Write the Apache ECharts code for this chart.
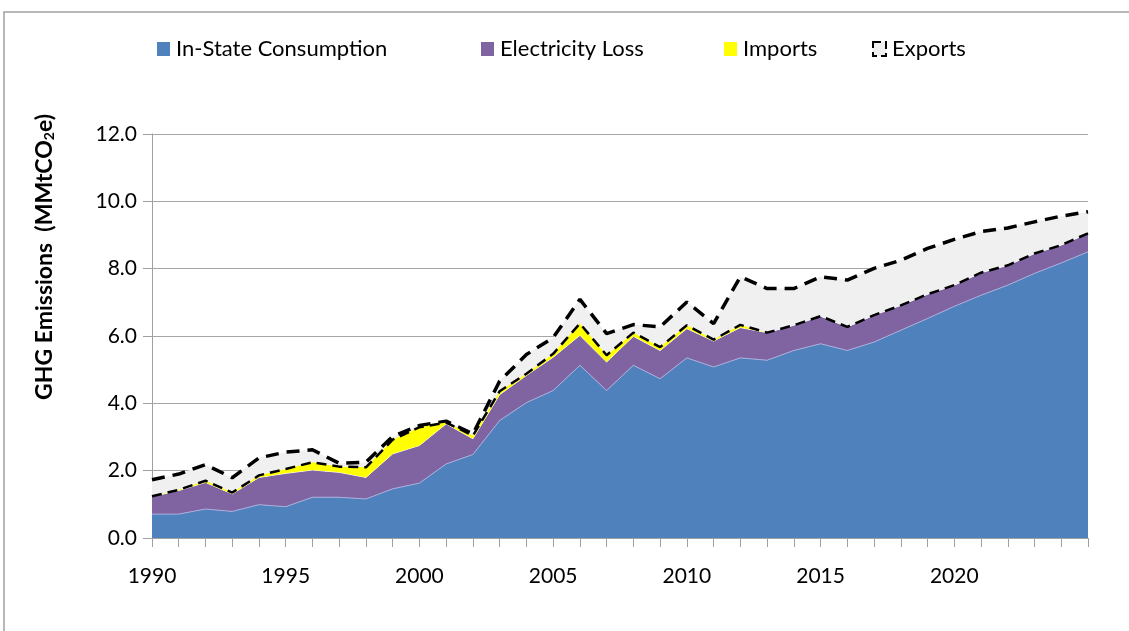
<!DOCTYPE html>
<html>
<head>
<meta charset="utf-8">
<script src="https://cdn.jsdelivr.net/npm/echarts@6/dist/echarts.min.js"></script>
<style>
  html, body { margin: 0; padding: 0; background: #fff; }
  #main { width: 1129px; height: 631px; }
</style>
</head>
<body>
<div id="main"></div>
<script>
// years 1990 - 2025
let years = [];
for (let y = 1990; y <= 2025; y++) years.push(String(y));

// MMtCO2e
let inState = [0.71, 0.71, 0.86, 0.79, 0.99, 0.93, 1.21, 1.21, 1.16, 1.46,
    1.63, 2.20, 2.48, 3.49, 4.02, 4.38, 5.13, 4.38, 5.13, 4.73,
    5.35, 5.08, 5.35, 5.28, 5.57, 5.77, 5.57, 5.82, 6.17, 6.52,
    6.88, 7.21, 7.51, 7.86, 8.17, 8.50];
let elecLoss = [0.52, 0.70, 0.79, 0.52, 0.81, 0.99, 0.81, 0.74, 0.64, 1.04,
    1.12, 1.19, 0.47, 0.77, 0.81, 0.99, 0.89, 0.85, 0.86, 0.84,
    0.87, 0.77, 0.90, 0.82, 0.75, 0.82, 0.70, 0.80, 0.74, 0.72,
    0.63, 0.67, 0.59, 0.59, 0.53, 0.55];
let imports = [0.01, 0.02, 0.05, 0.04, 0.06, 0.13, 0.23, 0.17, 0.30, 0.42,
    0.54, 0.04, 0.09, 0.10, 0.05, 0.10, 0.35, 0.20, 0.11, 0.10,
    0.10, 0.04, 0.08, 0, 0, 0, 0, 0, 0, 0,
    0, 0, 0, 0, 0, 0];
let exportsArr = [0.49, 0.47, 0.48, 0.44, 0.52, 0.50, 0.37, 0.10, 0.15, 0.10,
    0.05, 0.04, 0.05, 0.30, 0.57, 0.48, 0.72, 0.64, 0.24, 0.60,
    0.69, 0.48, 1.43, 1.31, 1.09, 1.17, 1.39, 1.39, 1.34, 1.36,
    1.36, 1.22, 1.11, 0.94, 0.86, 0.64];

let seriesNames = ['In-State Consumption', 'Electricity Loss', 'Imports', 'Exports'];
let legendLeft = [152, 476, 719, 867];

let fontFam = 'Lato, "Liberation Sans", sans-serif';

// one legend box per entry so they sit where the original puts them
let legends = seriesNames.map(function(n, i) {
    let item = {name: n};
    if (n === 'Exports') {
        item.itemStyle = {color: '#f0f0f0', borderColor: '#000', borderWidth: 2, borderType: 'dashed'};
    }
    return {
        top: 33,
        left: legendLeft[i],
        itemWidth: 13,
        itemHeight: 14,
        icon: 'rect',
        textStyle: {fontFamily: fontFam, fontSize: 22, color: '#000', padding: [0, 0, 0, 1]},
        data: [item]
    };
});

let chart = echarts.init(document.getElementById('main'));
let option = {
    backgroundColor: '#fff',
    animation: false,
    legend: legends,
    grid: {left: 152, right: 41, top: 134, bottom: 93},
    xAxis: {
        type: 'category',
        data: years,
        boundaryGap: false,
        axisLine: {lineStyle: {color: '#a0a0a0', width: 1}},
        axisTick: {interval: 0, length: 9, lineStyle: {color: '#a0a0a0'}},
        axisLabel: {
            interval: function(idx) { return idx % 5 === 0 && idx < 35; },
            margin: 28, fontFamily: fontFam, fontSize: 21, color: '#000'
        },
        splitLine: {show: false}
    },
    yAxis: {
        type: 'value',
        min: 0,
        max: 12,
        interval: 2,
        axisLine: {show: true, lineStyle: {color: '#a0a0a0'}},
        axisTick: {show: true, length: 9, lineStyle: {color: '#a0a0a0'}},
        axisLabel: {margin: 15, fontFamily: fontFam, fontSize: 21, color: '#000',
            formatter: function(v) { return v.toFixed(1); }},
        splitLine: {lineStyle: {color: '#a6a6a6', width: 1}}
    },
    graphic: [
        {type: 'polyline', shape: {points: [[4, 631], [4, 12], [1129, 12]]},
            style: {stroke: '#a0a0a0', lineWidth: 1.5, fill: null}, silent: true},
        {type: 'text', x: 45, y: 257, rotation: Math.PI / 2,
            style: {
                text: 'GHG Emissions  (MMtCO{sub|2}e)',
                rich: {sub: {fontSize: 14, fontWeight: 'bold', fontFamily: fontFam, verticalAlign: 'bottom', padding: [9, 0, 0, 0]}},
                fontFamily: fontFam, fontSize: 23, fontWeight: 'bold', fill: '#000',
                align: 'center', verticalAlign: 'middle'
            }}
    ],
    series: [
        {
            name: seriesNames[0], type: 'line', stack: 'total', data: inState,
            symbol: 'none', z: 2,
            itemStyle: {color: '#4f81bd'},
            lineStyle: {color: '#a9aedb', width: 1},
            areaStyle: {color: '#4f81bd', opacity: 1}
        },
        {
            name: seriesNames[1], type: 'line', stack: 'total', data: elecLoss,
            symbol: 'none', z: 2,
            itemStyle: {color: '#8064a2'},
            lineStyle: {color: '#ffffff', width: 1},
            areaStyle: {color: '#8064a2', opacity: 1}
        },
        {
            name: seriesNames[2], type: 'line', stack: 'total', data: imports,
            symbol: 'none', z: 4,
            itemStyle: {color: '#ffff00'},
            lineStyle: {color: '#000', width: 2.5, type: [10, 6]},
            areaStyle: {color: '#ffff00', opacity: 1}
        },
        {
            name: seriesNames[3], type: 'line', stack: 'total', data: exportsArr,
            symbol: 'none', z: 3,
            itemStyle: {color: '#f0f0f0'},
            lineStyle: {color: '#000', width: 3.5, type: [13, 8]},
            areaStyle: {color: '#f0f0f0', opacity: 1}
        }
    ]
};
chart.setOption(option);
</script>
</body>
</html>
